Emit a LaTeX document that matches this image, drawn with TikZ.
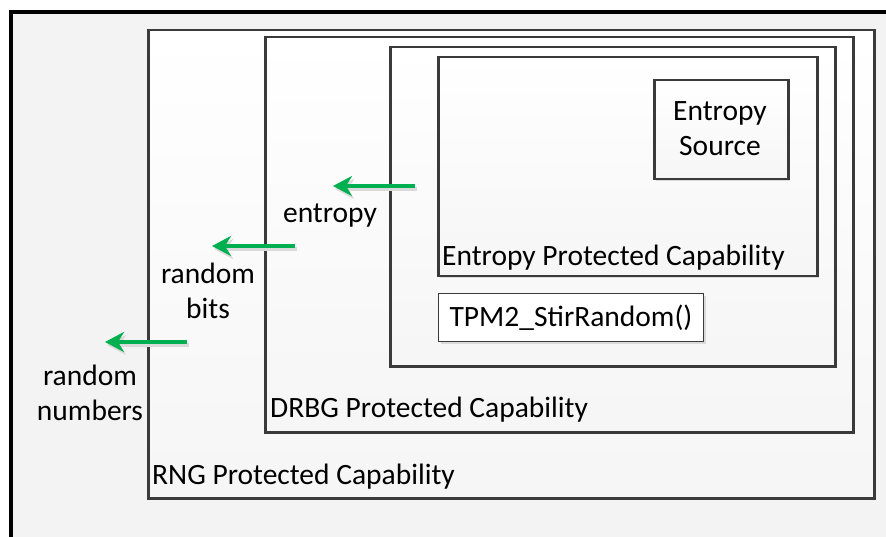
\documentclass[tikz,border=0pt]{standalone}
\usepackage{fontspec}
\setmainfont{Carlito}
\usetikzlibrary{arrows.meta}
\definecolor{bordergray}{HTML}{3A3A3A}
\definecolor{bggray}{HTML}{F3F3F3}
\definecolor{arrowgreen}{RGB}{0,176,80}
\definecolor{shadowgray}{HTML}{DADADA}
\tikzset{
  box/.style={draw=bordergray, line width=2.5pt, top color=white, bottom color=bggray!90!gray!40, anchor=north west, inner sep=0pt, rectangle},
  thinbox/.style={draw=bordergray, line width=1pt, fill=white, anchor=north west, inner sep=0pt, rectangle},
  lbl/.style={inner sep=0pt, font=\fontsize{29.5}{35}\selectfont},
  flow/.style={draw=arrowgreen, line width=4pt, -{Stealth[length=19pt,width=20pt,inset=6pt]}},
  flowshadow/.style={draw=shadowgray, line width=4pt, -{Stealth[length=19pt,width=20pt,inset=6pt]}},
}
\newcommand{\shadowbox}[4]{\fill[shadowgray] (#1+3,#2+3) rectangle (#3+3,#4+3);}
\begin{document}
\begin{tikzpicture}[x=1pt,y=-1pt]
\useasboundingbox (0,0) rectangle (886,537);
\fill[white] (0,0) rectangle (886,537);
\fill[bggray] (10,10) rectangle (886,537);
\fill[black] (9,10) rectangle (13,537);
\fill[black] (9,10) rectangle (886,14);

% RNG box
\shadowbox{147}{29}{873}{497}
\node[box, minimum width=726pt, minimum height=468pt] (rng) at (147,29) {};
% DRBG box
\shadowbox{264}{36}{852}{431}
\node[box, minimum width=588pt, minimum height=395pt] (drbg) at (264,36) {};
% third box
\shadowbox{389}{46}{834}{365}
\node[box, minimum width=445pt, minimum height=319pt] (inner) at (389,46) {};
% Entropy protected capability
\shadowbox{437}{56}{816}{275}
\node[box, minimum width=379pt, minimum height=219pt] (epc) at (437,56) {};
% Entropy source
\shadowbox{653}{79}{787}{178}
\node[box, minimum width=134pt, minimum height=99pt] (src) at (653,79) {};
\node[lbl, anchor=base, align=center] (srclbl) at (720,156) {Entropy\\Source};
% TPM2_StirRandom
\shadowbox{438}{293}{703}{341}
\node[thinbox, minimum width=265pt, minimum height=48pt] (stir) at (438,293) {};
\node[lbl] (stirlbl) at (stir.center) {TPM2\_StirRandom()};

% box labels
\node[lbl, anchor=base west] (rnglbl) at (152,484) {RNG Protected Capability};
\node[lbl, anchor=base west] (drbglbl) at (270,417) {DRBG Protected Capability};
\node[lbl, anchor=base west] (epclbl) at (442,266) {Entropy Protected Capability};

% arrows
\coordinate (a1s) at (415,186); \coordinate (a1e) at (333,186);
\coordinate (a2s) at (295,246); \coordinate (a2e) at (212,246);
\coordinate (a3s) at (187,342); \coordinate (a3e) at (105,342);
\draw[flowshadow] ([shift={(2,3)}]a1s) -- ([shift={(2,3)}]a1e);
\draw[flowshadow] ([shift={(2,3)}]a2s) -- ([shift={(2,3)}]a2e);
\draw[flowshadow] ([shift={(2,3)}]a3s) -- ([shift={(2,3)}]a3e);
\draw[flow] (a1s) -- (a1e);
\draw[flow] (a2s) -- (a2e);
\draw[flow] (a3s) -- (a3e);

% flow labels
\node[lbl, anchor=base] (entlbl) at (330,223) {entropy};
\node[lbl, anchor=base, align=center] (bitslbl) at (208,318) {random\\bits};
\node[lbl, anchor=base, align=center] (numlbl) at (90,420) {random\\numbers};
\end{tikzpicture}
\end{document}
